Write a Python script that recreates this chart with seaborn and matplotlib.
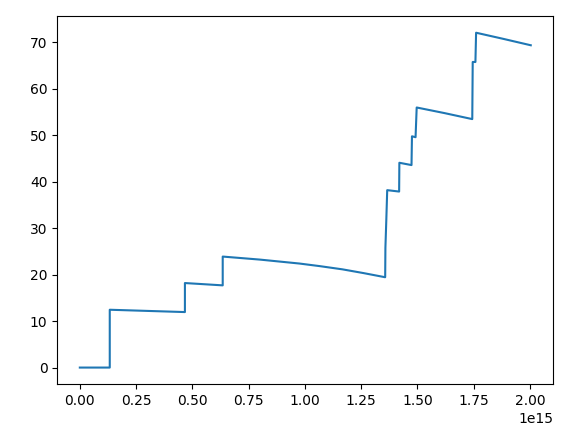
import matplotlib
matplotlib.use("Agg")
import matplotlib.pyplot as plt
import seaborn as sns
import numpy as np

# x in units of 1e15
x_vals = [0.0, 0.133, 0.133, 0.30, 0.467, 0.467, 0.635, 0.635, 0.80, 0.976, 1.065, 1.167,
          1.26, 1.357, 1.358, 1.362, 1.366, 1.419, 1.420, 1.474, 1.476, 1.492, 1.497,
          1.62, 1.744, 1.746, 1.758, 1.761, 1.88, 2.004]
y_vals = [0.0, 0.0, 12.45, 12.2, 11.95, 18.2, 17.7, 23.9, 23.25, 22.4, 21.85, 21.15,
          20.35, 19.45, 25.8, 31.8, 38.2, 37.9, 44.1, 43.6, 49.8, 49.6, 56.0,
          54.8, 53.5, 65.8, 65.8, 72.1, 70.8, 69.4]

x = np.array(x_vals) * 1e15
y = np.array(y_vals)

fig = plt.figure(figsize=(5.66, 4.32), dpi=100)
ax = fig.add_axes([0.1012, 0.1104, 0.8764, 0.8526])
sns.lineplot(x=x, y=y, estimator=None, sort=False, ax=ax, color="#1f77b4", linewidth=1.5)

fig.savefig("out.png", dpi=100)
